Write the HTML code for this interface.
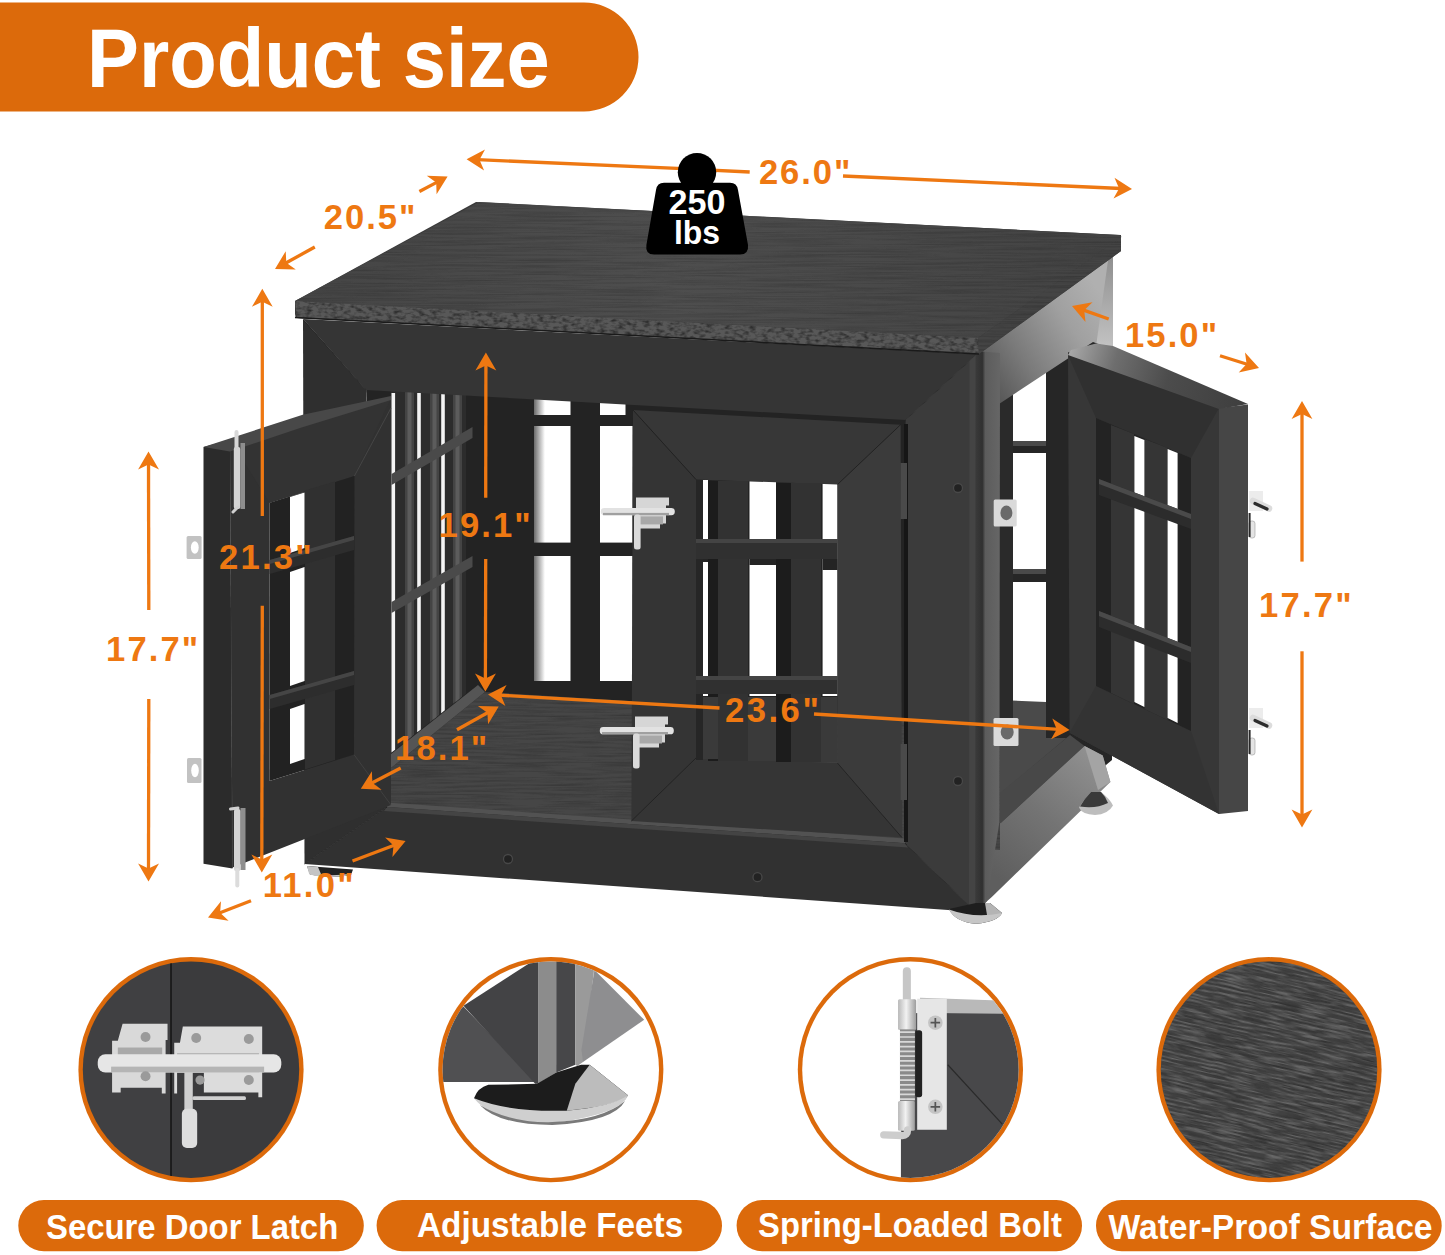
<!DOCTYPE html>
<html lang="en"><head><meta charset="utf-8"><title>Product size</title>
<style>
html,body{margin:0;padding:0;background:#fff;}
body{width:1445px;height:1255px;overflow:hidden;}
svg{display:block;font-family:"Liberation Sans",sans-serif;font-weight:bold;}
</style></head><body>
<svg width="1445" height="1255" viewBox="0 0 1445 1255">
<defs>
<linearGradient id="gSideTop" gradientUnits="userSpaceOnUse" x1="985" y1="380" x2="1105" y2="300">
<stop offset="0" stop-color="#585858"/><stop offset="0.3" stop-color="#7a7a7a"/><stop offset="0.7" stop-color="#a0a0a0"/><stop offset="1" stop-color="#b0b0b0"/></linearGradient>
<linearGradient id="gBackPost" x1="0" y1="0" x2="0" y2="1">
<stop offset="0" stop-color="#8c8c8c"/><stop offset="1" stop-color="#c4c4c4"/></linearGradient>
<linearGradient id="gSideBot" gradientUnits="userSpaceOnUse" x1="1000" y1="880" x2="1100" y2="760">
<stop offset="0" stop-color="#5e5e5e"/><stop offset="0.5" stop-color="#747474"/><stop offset="1" stop-color="#909090"/></linearGradient>
<linearGradient id="gTop" gradientUnits="userSpaceOnUse" x1="300" y1="0" x2="1120" y2="0">
<stop offset="0" stop-color="#454545"/><stop offset="0.45" stop-color="#4e4e4e"/><stop offset="1" stop-color="#434343"/></linearGradient>
<linearGradient id="gCorner" x1="0" y1="0" x2="1" y2="0">
<stop offset="0" stop-color="#3a3a3a"/><stop offset="0.28" stop-color="#303030"/><stop offset="0.4" stop-color="#5c5c5c"/><stop offset="1" stop-color="#666666"/></linearGradient>
<linearGradient id="gDoorTop" gradientUnits="userSpaceOnUse" x1="1070" y1="350" x2="1247" y2="405">
<stop offset="0" stop-color="#a8a8a8"/><stop offset="0.25" stop-color="#6e6e6e"/><stop offset="0.55" stop-color="#4c4c4c"/><stop offset="1" stop-color="#3e3e3e"/></linearGradient>
<linearGradient id="gSilverV" x1="0" y1="0" x2="0" y2="1">
<stop offset="0" stop-color="#f4f4f4"/><stop offset="0.5" stop-color="#c8c8c8"/><stop offset="1" stop-color="#a0a0a0"/></linearGradient>
<linearGradient id="gSilverH" x1="0" y1="0" x2="1" y2="0">
<stop offset="0" stop-color="#b8b8b8"/><stop offset="0.45" stop-color="#f2f2f2"/><stop offset="1" stop-color="#9c9c9c"/></linearGradient>
<linearGradient id="gFoot" x1="0" y1="0" x2="1" y2="0">
<stop offset="0" stop-color="#2a2a2a"/><stop offset="0.5" stop-color="#3a3a3a"/><stop offset="0.62" stop-color="#bdbdbd"/><stop offset="1" stop-color="#d2d2d2"/></linearGradient>
<linearGradient id="gGapShade" x1="0" y1="0" x2="1" y2="0">
<stop offset="0" stop-color="#6a6a6a"/><stop offset="0.3" stop-color="#ffffff"/></linearGradient>
<filter id="grain" x="0" y="0" width="100%" height="100%">
<feTurbulence type="fractalNoise" baseFrequency="0.012 0.55" numOctaves="2" seed="7" result="n"/>
<feColorMatrix in="n" type="matrix" values="0 0 0 0 1  0 0 0 0 1  0 0 0 0 1  1.6 0 0 0 -0.62" result="a"/>
<feComposite in="SourceGraphic" in2="a" operator="in"/>
</filter>
<filter id="bump" x="0" y="0" width="100%" height="100%">
<feTurbulence type="fractalNoise" baseFrequency="0.16 0.3" numOctaves="2" seed="3" result="n"/>
<feColorMatrix in="n" type="matrix" values="0 0 0 0 1  0 0 0 0 1  0 0 0 0 1  2.4 0 0 0 -1.0" result="a"/>
<feComposite in="SourceGraphic" in2="a" operator="in"/>
</filter>
<filter id="grain3" x="0" y="0" width="100%" height="100%">
<feTurbulence type="fractalNoise" baseFrequency="0.035 0.5" numOctaves="3" seed="5" result="n"/>
<feColorMatrix in="n" type="matrix" values="0 0 0 0 1  0 0 0 0 1  0 0 0 0 1  3.0 0 0 0 -1.25" result="a"/>
<feComposite in="SourceGraphic" in2="a" operator="in"/>
</filter>
<filter id="grain2" x="0" y="0" width="100%" height="100%">
<feTurbulence type="fractalNoise" baseFrequency="0.02 0.45" numOctaves="2" seed="11" result="n"/>
<feColorMatrix in="n" type="matrix" values="0 0 0 0 1  0 0 0 0 1  0 0 0 0 1  2.0 0 0 0 -0.8" result="a"/>
<feComposite in="SourceGraphic" in2="a" operator="in"/>
</filter>
<clipPath id="c1"><circle cx="191" cy="1069.7" r="108.2"/></clipPath>
<clipPath id="c2"><circle cx="550.8" cy="1069.7" r="108.2"/></clipPath>
<clipPath id="c3"><circle cx="910.4" cy="1069.7" r="108.2"/></clipPath>
<clipPath id="c4"><circle cx="1269" cy="1069.7" r="108.2"/></clipPath>
</defs>
<rect x="0.0" y="0.0" width="1445.0" height="1255.0" fill="#ffffff" />
<path d="M0,2.5 H584 a54.5,54.5 0 0 1 0,109 H0 Z" fill="#dc6a0b"/>
<text transform="translate(87.1,86.5) scale(0.9375,1)" font-size="83.0" fill="#ffffff" letter-spacing="0.00" text-anchor="start" >Product size</text>
<polygon points="985.0,356.0 1112.0,262.0 1112.0,760.0 1100.0,770.0 1000.0,824.0 985.0,824.0" fill="#262626" />
<rect x="1013.0" y="372.0" width="33.0" height="69.0" fill="#fff" />
<rect x="1013.0" y="453.0" width="33.0" height="116.0" fill="#fff" />
<rect x="1013.0" y="582.0" width="33.0" height="120.0" fill="#fff" />
<rect x="1013.0" y="441.0" width="33.0" height="5.0" fill="#4a4a4a" />
<rect x="1013.0" y="569.0" width="33.0" height="5.0" fill="#4a4a4a" />
<polygon points="999.0,700.0 1046.0,702.0 1070.0,735.0 999.0,795.0" fill="#4a4a4a" />
<rect x="999.0" y="356.0" width="14.0" height="390.0" fill="#2a2a2a" />
<rect x="1046.0" y="340.0" width="24.0" height="398.0" fill="#262626" />
<polygon points="979.0,348.0 1113.0,252.0 1113.0,349.5 1093.0,342.0 999.0,404.0" fill="url(#gSideTop)" />
<polygon points="980.0,352.0 1000.0,356.0 999.0,404.0" fill="#555555" />
<polygon points="1108.5,257.0 1113.0,252.0 1113.0,349.5 1096.5,343.0" fill="url(#gBackPost)" />
<polygon points="1000.0,793.0 1070.0,735.0 1084.5,746.0 999.4,824.3" fill="#484848" />
<polygon points="985.0,824.3 999.4,824.3 1084.5,746.0 1102.7,755.5 1110.4,782.0 991.8,897.0 985.0,903.0" fill="url(#gSideBot)" />
<polygon points="1084.5,746.0 1102.7,755.5 1110.4,782.0 1098.0,790.0" fill="#a4a4a4" />
<path d="M1091,792 L1101,792 Q1110,799 1113,805.5 Q1108,814.5 1095,815 Q1082,814.5 1079,807.5 Q1084,799 1091,792 Z" fill="#bdbdbd"/>
<path d="M1091,792 L1101,792 Q1106,797 1108,803 Q1096,809 1080,806.5 Q1084,799 1091,792 Z" fill="#3a3a3a"/>
<polygon points="1068.0,352.0 1219.0,408.0 1219.0,814.0 1069.6,732.7" fill="#373737" />
<polygon points="1219.0,408.0 1248.0,404.6 1248.0,811.0 1219.0,814.0" fill="#464646" />
<polygon points="1068.0,355.0 1219.0,408.0 1191.0,458.0 1096.0,418.0" fill="#303030" />
<polygon points="1096.0,686.0 1191.0,731.0 1219.0,814.0 1069.6,732.7" fill="#333333" />
<polygon points="1071.0,350.0 1096.0,343.5 1113.0,346.0 1248.0,404.0 1219.0,409.0 1068.0,355.0" fill="url(#gDoorTop)" />
<polygon points="1096.0,418.0 1191.0,458.0 1191.0,731.0 1096.0,686.0" fill="#232323" />
<polygon points="1111.0,425.0 1134.0,434.0 1134.0,704.0 1111.0,693.0" fill="#353535" />
<polygon points="1144.4,439.0 1167.6,448.0 1167.6,720.0 1144.4,709.0" fill="#353535" />
<polygon points="1134.4,436.0 1144.4,440.0 1144.4,707.0 1134.4,702.0" fill="#fff" />
<polygon points="1167.6,449.0 1177.6,453.0 1177.6,723.0 1167.6,718.0" fill="#fff" />
<polygon points="1099.0,479.0 1191.0,514.0 1191.0,529.0 1099.0,495.0" fill="#2c2c2c" />
<polygon points="1099.0,479.0 1191.0,514.0 1191.0,519.0 1099.0,484.0" fill="#4a4a4a" />
<polygon points="1099.0,611.0 1191.0,647.0 1191.0,663.0 1099.0,627.0" fill="#2c2c2c" />
<polygon points="1099.0,611.0 1191.0,647.0 1191.0,652.0 1099.0,616.0" fill="#4a4a4a" />
<polygon points="366.0,388.0 906.0,418.0 908.0,845.0 386.0,808.0" fill="#232323" />
<rect x="534.0" y="398.0" width="36.5" height="17.0" fill="url(#gGapShade)" />
<rect x="534.0" y="426.0" width="36.5" height="116.6" fill="url(#gGapShade)" />
<rect x="534.0" y="556.0" width="36.5" height="125.0" fill="url(#gGapShade)" />
<rect x="600.0" y="398.0" width="25.5" height="17.0" fill="#fff" />
<rect x="600.0" y="426.0" width="32.5" height="116.6" fill="#fff" />
<rect x="600.0" y="556.0" width="32.5" height="125.0" fill="#fff" />
<rect x="703.0" y="480.0" width="5.0" height="216.0" fill="#fff" />
<rect x="749.5" y="480.0" width="26.5" height="216.0" fill="#fff" />
<rect x="822.6" y="480.0" width="14.9" height="216.0" fill="#fff" />
<polygon points="391.0,391.0 466.0,391.0 466.0,693.5 391.0,753.0" fill="#2c2c2c" />
<polygon points="405.0,392.0 414.0,392.0 414.0,734.8 405.0,741.9" fill="#444444" />
<polygon points="407.5,392.0 411.5,392.0 411.5,736.8 407.5,739.9" fill="#5c5c5c" />
<polygon points="430.0,392.0 439.0,392.0 439.0,714.9 430.0,722.1" fill="#444444" />
<polygon points="432.5,392.0 436.5,392.0 436.5,716.9 432.5,720.1" fill="#5c5c5c" />
<polygon points="453.0,392.0 462.0,392.0 462.0,696.7 453.0,703.8" fill="#444444" />
<polygon points="455.5,392.0 459.5,392.0 459.5,698.7 455.5,701.9" fill="#5c5c5c" />
<polygon points="391.5,393.0 395.1,393.0 395.1,749.8 391.5,752.6" fill="#f4f4f4" />
<polygon points="417.2,393.0 420.8,393.0 420.8,729.4 417.2,732.2" fill="#f4f4f4" />
<polygon points="441.2,393.0 444.8,393.0 444.8,710.3 441.2,713.2" fill="#f4f4f4" />
<polygon points="391.5,474.0 472.5,427.0 472.5,438.0 391.5,485.0" fill="#4a4a4a" />
<polygon points="391.5,602.0 472.5,556.0 472.5,567.0 391.5,613.0" fill="#4a4a4a" />
<polygon points="485.0,692.0 1000.0,724.0 1000.0,850.0 386.0,808.0 386.0,772.0" fill="#464646" />
<polygon points="485.0,692.0 1000.0,724.0 1000.0,850.0 386.0,808.0 386.0,772.0" fill="#222" filter="url(#grain2)" opacity="0.4"/>
<polygon points="485.0,692.0 386.0,772.0 386.0,758.0 478.0,685.0" fill="#555555" />
<polygon points="386.0,802.5 905.0,838.5 905.0,843.3 386.0,807.0" fill="#525252" />
<polygon points="303.0,319.0 977.0,354.0 905.6,420.0 366.0,390.0" fill="#353535" />
<polygon points="905.6,420.0 977.0,354.0 976.0,912.0 905.0,843.3" fill="#3b3b3b" />
<polygon points="304.5,864.0 387.0,807.0 905.0,843.3 976.0,912.0" fill="#313131" />
<polygon points="387.0,807.0 905.0,843.3 908.0,847.5 384.0,811.0" fill="#444444" />
<polygon points="303.0,319.0 366.0,390.0 387.0,807.0 304.5,864.0" fill="#2f2f2f" />
<line x1="303.5" y1="320.0" x2="366.0" y2="390.0" stroke="#1e1e1e" stroke-width="0.8" />
<line x1="977.0" y1="354.0" x2="905.6" y2="420.0" stroke="#1e1e1e" stroke-width="0.8" />
<line x1="905.0" y1="843.3" x2="976.0" y2="912.0" stroke="#1e1e1e" stroke-width="0.8" />
<line x1="304.5" y1="864.0" x2="387.0" y2="807.0" stroke="#1e1e1e" stroke-width="0.8" />
<polygon points="969.5,361.0 976.0,355.0 975.5,911.0 969.0,905.0" fill="#444444" />
<polygon points="975.5,351.0 1000.0,353.0 999.4,822.0 987.0,901.0 982.0,907.0 975.5,912.0" fill="url(#gCorner)" />
<rect x="904.0" y="424.0" width="4.0" height="418.0" fill="#161616" />
<polygon points="633.0,410.0 900.6,424.7 837.5,484.5 696.0,479.5" fill="#373737" />
<polygon points="631.4,821.0 696.0,758.0 837.4,763.0 902.0,837.6" fill="#353535" />
<polygon points="633.0,410.0 696.0,479.5 696.0,758.0 631.4,821.0" fill="#343434" />
<polygon points="900.6,424.7 837.5,484.5 837.4,763.0 902.0,837.6" fill="#3b3b3b" />
<line x1="633.0" y1="410.0" x2="696.0" y2="479.5" stroke="#1e1e1e" stroke-width="0.8" />
<line x1="900.6" y1="424.7" x2="837.5" y2="484.5" stroke="#1e1e1e" stroke-width="0.8" />
<line x1="631.4" y1="821.0" x2="696.0" y2="758.0" stroke="#1e1e1e" stroke-width="0.8" />
<line x1="902.0" y1="837.6" x2="837.4" y2="763.0" stroke="#1e1e1e" stroke-width="0.8" />
<rect x="696.0" y="480.0" width="7.0" height="280.0" fill="#262626" />
<rect x="708.0" y="481.0" width="10.0" height="280.0" fill="#1c1c1c" />
<rect x="776.0" y="483.0" width="15.0" height="279.0" fill="#1c1c1c" />
<rect x="718.0" y="481.0" width="30.0" height="280.0" fill="#323232" />
<rect x="791.0" y="483.0" width="30.0" height="279.0" fill="#323232" />
<rect x="749.5" y="556.0" width="26.5" height="9.0" fill="#242424" />
<rect x="822.6" y="559.0" width="14.9" height="11.0" fill="#242424" />
<rect x="703.0" y="556.0" width="5.0" height="6.0" fill="#242424" />
<rect x="696.0" y="539.0" width="141.5" height="20.0" fill="#303030" />
<rect x="696.0" y="676.0" width="141.5" height="18.0" fill="#303030" />
<rect x="696.0" y="539.0" width="141.5" height="4.0" fill="#444444" />
<rect x="696.0" y="676.0" width="141.5" height="4.0" fill="#444444" />
<rect x="748.0" y="697.0" width="28.0" height="64.0" fill="#3a3a3a" />
<rect x="821.0" y="697.0" width="16.5" height="65.0" fill="#3a3a3a" />
<rect x="703.0" y="697.0" width="15.0" height="62.0" fill="#3a3a3a" />
<rect x="900.6" y="463.0" width="6.4" height="56.0" fill="#4a4a4a" />
<rect x="900.6" y="744.0" width="6.4" height="56.0" fill="#4a4a4a" />
<polygon points="203.5,447.0 230.0,440.0 232.5,868.5 203.5,863.7" fill="#2b2b2b" />
<line x1="230.5" y1="441.0" x2="232.5" y2="868.0" stroke="#454545" stroke-width="0.8" />
<path fill-rule="evenodd" fill="#313131" d="M230,440 L391,398 L391,805 L232.5,867.5 Z M269.7,502.7 L354.4,476 L354,754.6 L269.4,781 Z"/>
<polygon points="230.0,440.0 391.0,398.0 354.4,476.0 269.7,502.7" fill="#333333" />
<line x1="391.0" y1="408.0" x2="354.4" y2="476.0" stroke="#4a4a4a" stroke-width="0.8" />
<line x1="391.0" y1="805.0" x2="354.0" y2="754.6" stroke="#444" stroke-width="0.8" />
<polygon points="203.5,447.0 302.7,414.7 391.0,396.0 391.0,400.0 300.0,428.0 230.0,451.5" fill="#484848" />
<polygon points="269.7,502.7 354.4,476.0 354.0,754.6 269.4,781.0" fill="#222222" />
<polygon points="305.0,490.5 335.0,481.5 335.0,760.0 305.0,769.5" fill="#303030" />
<polygon points="290.0,497.0 304.5,492.5 304.5,548.0 290.0,553.0" fill="#fff" />
<polygon points="290.0,572.0 304.5,567.0 304.5,681.0 290.0,686.0" fill="#fff" />
<polygon points="290.0,709.0 304.5,704.0 304.5,759.0 290.0,764.0" fill="#fff" />
<polygon points="269.7,560.0 354.0,536.0 354.0,550.0 269.7,574.0" fill="#2d2d2d" />
<polygon points="269.7,560.0 354.0,536.0 354.0,540.0 269.7,564.0" fill="#454545" />
<polygon points="269.7,695.0 354.0,671.0 354.0,685.0 269.7,709.0" fill="#2d2d2d" />
<polygon points="269.7,695.0 354.0,671.0 354.0,675.0 269.7,699.0" fill="#454545" />
<path d="M476,202 L1121,235 L1121,251 L979,354 L297,318 Q295,317 295,314 L295,301 Z" fill="#3a3a3a"/>
<path d="M479,202 L1119,235 Q1123,236 1120,239 L978,338 L295,301 Z" fill="url(#gTop)"/>
<path d="M479,202 L1119,235 Q1123,236 1120,239 L978,338 L295,301 Z" fill="#262626" filter="url(#grain)" opacity="0.45"/>
<polygon points="295.0,301.0 978.0,338.0 979.0,354.0 297.0,318.0" fill="#585858" />
<polygon points="295.0,301.0 978.0,338.0 979.0,354.0 297.0,318.0" fill="#262626" filter="url(#bump)" opacity="0.85"/>
<polygon points="978.0,338.0 1121.0,237.0 1121.0,251.0 979.0,354.0" fill="#444444" />
<polygon points="978.0,338.0 1121.0,237.0 1121.0,251.0 979.0,354.0" fill="#222" filter="url(#grain)" opacity="0.5"/>
<line x1="295.0" y1="317.5" x2="979.0" y2="354.0" stroke="#1a1a1a" stroke-width="1.5" />
<path d="M307,866 L353,869.5 L351,875 Q330,879 310,874.5 Z" fill="#222"/>
<path d="M307,866 L318,867 L322,876.5 Q314,876 309,873.5 Z" fill="#c4c4c4"/>
<path d="M309,873 Q330,877 352,873.5 L351,875 Q330,879 310,874.8 Z" fill="#c4c4c4"/>
<path d="M949,909 L976,903 L990,903 L1002,913 Q998,921.5 976,923.8 Q955,922 949,909 Z" fill="#1e1e1e"/>
<path d="M985,903 L990,903 L1002,913 Q998,919 988,921 Z" fill="#b4b4b4"/>
<path d="M949,909.5 Q975,919 1002,913 Q998,921.5 976,923.8 Q955,922 949,909.5 Z" fill="#c6c6c6"/>
<path d="M636.0,497.4 h33 v8 h-3 v18 h-6 v5 h-24 v-27 z" fill="#d6d6d6"/>
<rect x="639.0" y="516.4" width="24.0" height="8.0" fill="#a8a8a8" />
<rect x="600.8" y="508.0" width="74" height="7.2" rx="3.4" fill="#e2e2e2"/>
<rect x="603.0" y="512.9" width="66.0" height="2.3" fill="#a0a0a0" />
<rect x="634.0" y="514.4" width="6.6" height="35" rx="2.5" fill="#dadada"/>
<path d="M635.0,716.5 h33 v8 h-3 v18 h-6 v5 h-24 v-27 z" fill="#d6d6d6"/>
<rect x="638.0" y="735.5" width="24.0" height="8.0" fill="#a8a8a8" />
<rect x="599.8" y="727.1" width="74" height="7.2" rx="3.4" fill="#e2e2e2"/>
<rect x="602.0" y="732.0" width="66.0" height="2.3" fill="#a0a0a0" />
<rect x="633.0" y="733.5" width="6.6" height="35" rx="2.5" fill="#dadada"/>
<rect x="186.6" y="536.0" width="15.0" height="23.0" rx="1.5" fill="#c2c2c2"/>
<ellipse cx="194.8" cy="547.5" rx="3.9" ry="6.2" fill="#ffffff"/>
<rect x="187.0" y="758.0" width="14.5" height="25.0" rx="1.5" fill="#c2c2c2"/>
<ellipse cx="195.0" cy="770.5" rx="3.8" ry="6.8" fill="#ffffff"/>
<rect x="993.7" y="499.4" width="23.0" height="27.0" rx="1.5" fill="#dadada"/>
<ellipse cx="1006.4" cy="512.9" rx="6.0" ry="7.3" fill="#6a6a6a"/>
<rect x="993.5" y="718.0" width="25.0" height="28.0" rx="1.5" fill="#dadada"/>
<ellipse cx="1007.2" cy="732.0" rx="6.5" ry="7.6" fill="#6a6a6a"/>
<rect x="240.5" y="443" width="4.5" height="66" fill="#8e8e8e"/>
<rect x="234.5" y="430" width="4" height="20" rx="2" fill="#d8d8d8"/>
<rect x="233.8" y="447" width="6.5" height="62" rx="2" fill="#d4d4d4"/>
<path d="M238,507 L233,512" stroke="#d0d0d0" stroke-width="3" stroke-linecap="round"/>
<rect x="240.5" y="808" width="5" height="62" fill="#8e8e8e"/>
<path d="M230.5,809 L238,808" stroke="#d0d0d0" stroke-width="3" stroke-linecap="round"/>
<rect x="234" y="809" width="6.5" height="62" rx="2" fill="#d4d4d4"/>
<rect x="235.3" y="868" width="4" height="19.5" rx="2" fill="#dcdcdc"/>
<rect x="1249.0" y="491.0" width="14.0" height="20.0" fill="#ececec" />
<path d="M1253,501.0 L1269,508.5" stroke="#dcdcdc" stroke-width="6.5" stroke-linecap="round"/>
<path d="M1255,503.5 L1267,509.0" stroke="#2c2c2c" stroke-width="3.2" stroke-linecap="round"/>
<rect x="1249" y="521.0" width="6" height="17" rx="2.5" fill="#e4e4e4" stroke="#9a9a9a" stroke-width="0.6"/>
<rect x="1248.6" y="513.0" width="2.0" height="24.0" fill="#2a2a2a" />
<rect x="1249.0" y="708.0" width="14.0" height="20.0" fill="#ececec" />
<path d="M1253,718.0 L1269,725.5" stroke="#dcdcdc" stroke-width="6.5" stroke-linecap="round"/>
<path d="M1255,720.5 L1267,726.0" stroke="#2c2c2c" stroke-width="3.2" stroke-linecap="round"/>
<rect x="1249" y="738.0" width="6" height="17" rx="2.5" fill="#e4e4e4" stroke="#9a9a9a" stroke-width="0.6"/>
<rect x="1248.6" y="730.0" width="2.0" height="24.0" fill="#2a2a2a" />
<circle cx="958.0" cy="488.0" r="4.5" fill="#222" stroke="#484848" stroke-width="1.3"/>
<circle cx="958.0" cy="781.0" r="4.5" fill="#222" stroke="#484848" stroke-width="1.3"/>
<circle cx="508.0" cy="859.0" r="4.5" fill="#222" stroke="#484848" stroke-width="1.3"/>
<circle cx="757.5" cy="877.2" r="4.5" fill="#222" stroke="#484848" stroke-width="1.3"/>
<line x1="749.7" y1="172.0" x2="690.0" y2="169.1" stroke="#ee7812" stroke-width="3.3" />
<line x1="700.0" y1="169.3" x2="477.4" y2="159.7" stroke="#ee7812" stroke-width="3.3" />
<polygon points="466.6,159.2 485.0,149.5 479.5,159.8 484.1,170.4" fill="#ee7812" />
<circle cx="697" cy="172.2" r="19.2" fill="#000"/>
<path d="M664,182.8 H730 Q737,182.8 738,190 L748,245 Q749,254.5 740,254.5 H654 Q645,254.5 646.4,245 L656,190 Q657,182.8 664,182.8 Z" fill="#000"/>
<text transform="translate(668.4,214.2) scale(0.9760,1)" font-size="35.0" fill="#fff" letter-spacing="0.00" text-anchor="start" >250</text>
<text transform="translate(673.9,243.6) scale(0.9679,1)" font-size="33.0" fill="#fff" letter-spacing="0.00" text-anchor="start" >lbs</text>
<line x1="843.0" y1="176.0" x2="1121.2" y2="188.5" stroke="#ee7812" stroke-width="3.3" />
<polygon points="1132.0,189.0 1113.5,198.6 1119.1,188.4 1114.5,177.8" fill="#ee7812" />
<line x1="419.4" y1="191.5" x2="438.1" y2="181.6" stroke="#ee7812" stroke-width="3.3" />
<polygon points="447.6,176.5 436.6,194.2 436.2,182.6 426.8,175.7" fill="#ee7812" />
<line x1="314.8" y1="247.0" x2="284.5" y2="263.8" stroke="#ee7812" stroke-width="3.3" />
<polygon points="275.0,269.0 285.7,251.2 286.3,262.7 295.8,269.4" fill="#ee7812" />
<line x1="262.3" y1="516.0" x2="262.3" y2="299.6" stroke="#ee7812" stroke-width="3.3" />
<polygon points="262.3,288.8 272.7,306.8 262.3,301.8 251.9,306.8" fill="#ee7812" />
<line x1="262.3" y1="605.7" x2="261.8" y2="861.7" stroke="#ee7812" stroke-width="3.3" />
<polygon points="261.8,872.5 251.4,854.5 261.8,859.5 272.3,854.5" fill="#ee7812" />
<line x1="485.7" y1="497.8" x2="485.9" y2="363.4" stroke="#ee7812" stroke-width="3.3" />
<polygon points="485.9,352.6 496.3,370.6 485.9,365.6 475.4,370.6" fill="#ee7812" />
<line x1="485.7" y1="559.0" x2="485.4" y2="680.7" stroke="#ee7812" stroke-width="3.3" />
<polygon points="485.4,691.5 475.0,673.5 485.4,678.5 495.9,673.5" fill="#ee7812" />
<line x1="148.8" y1="610.0" x2="148.5" y2="462.3" stroke="#ee7812" stroke-width="3.3" />
<polygon points="148.5,451.5 159.0,469.5 148.5,464.5 138.1,469.5" fill="#ee7812" />
<line x1="148.8" y1="699.0" x2="148.5" y2="870.7" stroke="#ee7812" stroke-width="3.3" />
<polygon points="148.5,881.5 138.1,863.5 148.5,868.5 159.0,863.5" fill="#ee7812" />
<line x1="1302.0" y1="561.6" x2="1302.0" y2="411.8" stroke="#ee7812" stroke-width="3.3" />
<polygon points="1302.0,401.0 1312.4,419.0 1302.0,414.0 1291.6,419.0" fill="#ee7812" />
<line x1="1302.0" y1="651.3" x2="1302.0" y2="816.6" stroke="#ee7812" stroke-width="3.3" />
<polygon points="1302.0,827.4 1291.6,809.4 1302.0,814.4 1312.4,809.4" fill="#ee7812" />
<line x1="1108.7" y1="319.0" x2="1082.2" y2="309.6" stroke="#ee7812" stroke-width="3.3" />
<polygon points="1072.0,306.0 1092.5,302.2 1084.2,310.3 1085.5,321.9" fill="#ee7812" />
<line x1="1220.0" y1="355.7" x2="1248.7" y2="364.8" stroke="#ee7812" stroke-width="3.3" />
<polygon points="1259.0,368.0 1238.7,372.5 1246.6,364.1 1245.0,352.6" fill="#ee7812" />
<line x1="400.7" y1="768.0" x2="370.4" y2="783.8" stroke="#ee7812" stroke-width="3.3" />
<polygon points="360.8,788.8 371.9,771.2 372.3,782.8 381.6,789.7" fill="#ee7812" />
<line x1="457.0" y1="729.7" x2="489.3" y2="711.7" stroke="#ee7812" stroke-width="3.3" />
<polygon points="498.7,706.4 488.1,724.3 487.4,712.7 477.9,706.1" fill="#ee7812" />
<line x1="251.0" y1="900.8" x2="218.1" y2="913.5" stroke="#ee7812" stroke-width="3.3" />
<polygon points="208.0,917.4 221.0,901.2 220.1,912.7 228.6,920.7" fill="#ee7812" />
<line x1="352.5" y1="861.0" x2="395.5" y2="844.8" stroke="#ee7812" stroke-width="3.3" />
<polygon points="405.6,841.0 392.4,857.1 393.5,845.6 385.1,837.6" fill="#ee7812" />
<line x1="719.5" y1="708.0" x2="498.8" y2="695.1" stroke="#ee7812" stroke-width="3.3" />
<polygon points="488.0,694.5 506.6,685.1 500.9,695.3 505.4,706.0" fill="#ee7812" />
<line x1="814.0" y1="714.0" x2="1058.8" y2="729.3" stroke="#ee7812" stroke-width="3.3" />
<polygon points="1069.6,730.0 1051.0,739.3 1056.7,729.2 1052.3,718.5" fill="#ee7812" />
<text transform="translate(323.7,229.0) scale(1.0000,1)" font-size="34.6" fill="#ee7812" letter-spacing="2.00" text-anchor="start" >20.5&quot;</text>
<text transform="translate(758.9,184.4) scale(1.0000,1)" font-size="34.6" fill="#ee7812" letter-spacing="1.95" text-anchor="start" >26.0&quot;</text>
<text transform="translate(1125.0,347.0) scale(1.0000,1)" font-size="34.6" fill="#ee7812" letter-spacing="2.09" text-anchor="start" >15.0&quot;</text>
<text transform="translate(219.0,568.6) scale(1.0000,1)" font-size="34.6" fill="#ee7812" letter-spacing="2.22" text-anchor="start" >21.3&quot;</text>
<text transform="translate(438.6,537.4) scale(1.0000,1)" font-size="34.6" fill="#ee7812" letter-spacing="2.09" text-anchor="start" >19.1&quot;</text>
<text transform="translate(106.1,660.5) scale(1.0000,1)" font-size="34.6" fill="#ee7812" letter-spacing="2.09" text-anchor="start" >17.7&quot;</text>
<text transform="translate(1259.0,617.3) scale(1.0000,1)" font-size="34.6" fill="#ee7812" letter-spacing="2.22" text-anchor="start" >17.7&quot;</text>
<text transform="translate(395.1,760.0) scale(1.0000,1)" font-size="34.6" fill="#ee7812" letter-spacing="2.09" text-anchor="start" >18.1&quot;</text>
<text transform="translate(262.7,896.8) scale(1.0000,1)" font-size="34.6" fill="#ee7812" letter-spacing="2.28" text-anchor="start" >11.0&quot;</text>
<text transform="translate(724.9,722.4) scale(1.0000,1)" font-size="34.6" fill="#ee7812" letter-spacing="2.55" text-anchor="start" >23.6&quot;</text>
<circle cx="191.0" cy="1069.7" r="112.6" fill="#dc6a0b"/>
<circle cx="550.8" cy="1069.7" r="112.6" fill="#dc6a0b"/>
<circle cx="910.4" cy="1069.7" r="112.6" fill="#dc6a0b"/>
<circle cx="1269.0" cy="1069.7" r="112.6" fill="#dc6a0b"/>
<g clip-path="url(#c1)">
<rect x="78.0" y="957.0" width="93.0" height="226.0" fill="#404042" />
<rect x="171.0" y="957.0" width="133.0" height="226.0" fill="#3b3b3d" />
<rect x="170.3" y="957.0" width="1.4" height="226.0" fill="#111" />
<g transform="translate(70,950) scale(0.19124)">
<path d="M275,385 H510 V470 H500 V750 H480 V720 H265 V745 H220 V475 H250 Z" fill="#d9d9d9"/>
<rect x="250" y="510" width="232" height="120" fill="#a9a9a9"/>
<path d="M590,400 H1005 V770 H985 V745 H700 V640 H560 V750 H545 V485 H575 Z" fill="#dcdcdc"/>
<rect x="560" y="540" width="428" height="100" fill="#a9a9a9"/>
<rect x="640" y="765" width="280" height="20" rx="8" fill="#d0d0d0"/>
<rect x="145" y="545" width="960" height="95" rx="40" fill="#e6e6e6"/>
<rect x="215" y="610" width="800" height="30" fill="#b5b5b5"/>
<rect x="598" y="640" width="44" height="200" fill="#cfcfcf"/>
<rect x="585" y="830" width="80" height="205" rx="26" fill="#dedede"/>
<circle cx="395" cy="455" r="26" fill="#9a9a9a"/><circle cx="395" cy="660" r="26" fill="#9a9a9a"/>
<circle cx="660" cy="460" r="26" fill="#9a9a9a"/><circle cx="935" cy="465" r="26" fill="#9a9a9a"/>
<circle cx="680" cy="680" r="24" fill="#9a9a9a"/><circle cx="935" cy="680" r="26" fill="#9a9a9a"/>

</g>
</g>
<g clip-path="url(#c2)">
<rect x="438.0" y="957.0" width="226.0" height="226.0" fill="#ffffff" />
<g transform="translate(430,950) scale(0.19124)">
<polygon points="0,690 0,400 175,295 555,690" fill="#505052"/>
<polygon points="175,292 565,40 565,700 550,700" fill="#434345"/>
<polygon points="565,40 660,40 660,640 565,700" fill="#8c8c8c"/>
<polygon points="660,40 760,60 760,600 660,640" fill="#474749"/>
<polygon points="760,60 858,105 800,585 770,606 760,600" fill="#9a9a9a"/>
<polygon points="860,105 1120,365 800,585 792,520" fill="#8e8e90"/>
<path d="M230,775 Q250,720 305,705 L560,700 L660,640 L790,600 L835,600 L1035,760 Q1000,840 715,880 Q400,900 230,775 Z" fill="#1c1c1c"/>
<path d="M835,600 L1035,760 Q990,815 715,840 L760,700 Z" fill="#bcbcbc"/>
<path d="M230,775 Q420,850 715,840 Q950,820 1035,760 Q1000,860 640,905 Q330,900 230,775 Z" fill="#cfcfcf"/>
<path d="M260,810 Q420,905 640,900 Q900,890 1020,790 Q960,900 640,915 Q360,915 260,810 Z" fill="#7a7a7a"/>
</g></g>
<g clip-path="url(#c3)">
<rect x="798.0" y="957.0" width="226.0" height="226.0" fill="#ffffff" />
<g transform="translate(790,950) scale(0.19124)">
<rect x="580" y="330" width="700" height="900" fill="#48484a"/>
<polygon points="680,250 1280,270 1280,335 820,330 680,330" fill="#b9b9b9"/>
<line x1="825" y1="600" x2="1110" y2="910" stroke="#2a2a2a" stroke-width="6"/>
<rect x="665" y="255" width="155" height="685" fill="#e6e6e6"/>
<rect x="655" y="420" width="36" height="350" rx="14" fill="#222"/>
<circle cx="760" cy="380" r="38" fill="#c4c4c4"/><circle cx="760" cy="820" r="38" fill="#c4c4c4"/>
<path d="M735,380 H785 M760,355 V405 M735,820 H785 M760,795 V845" stroke="#555" stroke-width="9"/>
<rect x="590" y="90" width="42" height="190" rx="20" fill="#c6c6c6"/>
<rect x="565" y="258" width="95" height="160" rx="8" fill="url(#gSilverH)"/>
<rect x="575" y="415" width="78" height="378" fill="#8a8a8a"/>
<path d="M575,430 H653 M575,455 H653 M575,480 H653 M575,505 H653 M575,530 H653 M575,555 H653 M575,580 H653 M575,605 H653 M575,630 H653 M575,655 H653 M575,680 H653 M575,705 H653 M575,730 H653 M575,755 H653 M575,780 H653" stroke="#d8d8d8" stroke-width="9"/>
<rect x="565" y="790" width="88" height="155" rx="8" fill="url(#gSilverH)"/>
<path d="M615,940 Q615,972 585,970 L490,967" stroke="#cdcdcd" stroke-width="38" stroke-linecap="round" fill="none"/>
</g></g>
<g clip-path="url(#c4)">
<rect x="1155.0" y="955.0" width="228.0" height="230.0" fill="#414141" />
<g transform="rotate(13 1269 1069.7)"><rect x="1120" y="920" width="300" height="300" fill="#1c1c1c" filter="url(#grain2)" opacity="0.5"/><rect x="1120" y="920" width="300" height="300" fill="#9a9a9a" filter="url(#grain3)" opacity="0.45"/></g>
</g>
<rect x="18.3" y="1200" width="345.5" height="51.3" rx="25.6" fill="#dc6a0b"/>
<rect x="376.6" y="1200" width="345.4" height="51.3" rx="25.6" fill="#dc6a0b"/>
<rect x="736.6" y="1200" width="345.4" height="51.3" rx="25.6" fill="#dc6a0b"/>
<rect x="1096.0" y="1200" width="345.7" height="51.3" rx="25.6" fill="#dc6a0b"/>
<text transform="translate(46.0,1239.4) scale(0.9614,1)" font-size="34.2" fill="#fff" letter-spacing="0.00" text-anchor="start" >Secure Door Latch</text>
<text transform="translate(417.1,1236.8) scale(0.9728,1)" font-size="34.2" fill="#fff" letter-spacing="0.00" text-anchor="start" >Adjustable Feets</text>
<text transform="translate(758.1,1236.8) scale(0.9577,1)" font-size="34.2" fill="#fff" letter-spacing="0.00" text-anchor="start" >Spring-Loaded Bolt</text>
<text transform="translate(1108.4,1239.4) scale(0.9846,1)" font-size="34.2" fill="#fff" letter-spacing="0.00" text-anchor="start" >Water-Proof Surface</text>
</svg>
</body></html>
